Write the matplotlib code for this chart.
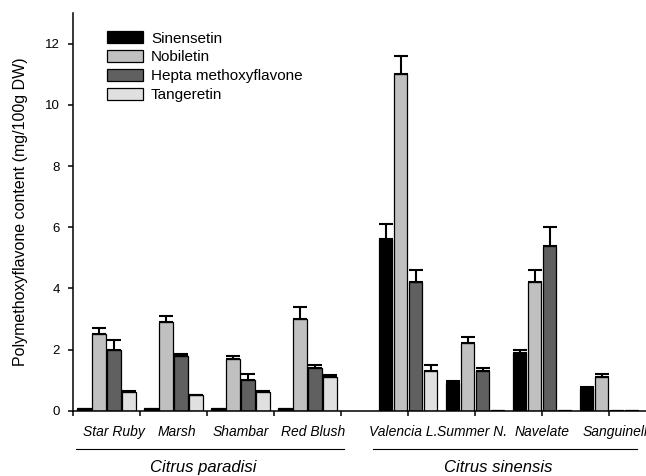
import matplotlib
matplotlib.use("Agg")
import matplotlib.pyplot as plt
import numpy as np

plt.rcParams['font.family'] = ['Liberation Sans', 'DejaVu Sans']

cultivars = ["Star Ruby", "Marsh", "Shambar", "Red Blush",
             "Valencia L.", "Summer N.", "Navelate", "Sanguinelli"]
species = ["Citrus paradisi", "Citrus sinensis"]
compounds = ["Sinensetin", "Nobiletin", "Hepta methoxyflavone", "Tangeretin"]

sinensetin = [0.09, 0.09, 0.09, 0.09, 5.6, 0.9, 1.9, 0.7]
sinensetin_err = [0.0, 0.0, 0.0, 0.0, 0.5, 0.08, 0.1, 0.08]
nobiletin = [2.5, 2.9, 1.7, 3.0, 11.0, 2.2, 4.2, 1.1]
nobiletin_err = [0.2, 0.2, 0.1, 0.4, 0.6, 0.2, 0.4, 0.1]
hepta = [2.0, 1.8, 1.0, 1.4, 4.2, 1.3, 5.4, 0.03]
hepta_err = [0.3, 0.07, 0.2, 0.1, 0.4, 0.1, 0.6, 0.0]
tangeretin = [0.62, 0.5, 0.61, 1.1, 1.3, 0.03, 0.03, 0.03]
tangeretin_err = [0.03, 0.03, 0.03, 0.08, 0.2, 0.0, 0.0, 0.0]

values = [sinensetin, nobiletin, hepta, tangeretin]
errors = [sinensetin_err, nobiletin_err, hepta_err, tangeretin_err]
colors = ["#000000", "#c0c0c0", "#606060", "#e0e0e0"]

# group centres: first species fills the slots between ticks,
# second species is centred on its ticks after a one-slot gap
centers = np.array([0.5, 1.5, 2.5, 3.5, 5.0, 6.0, 7.0, 8.0])
tick_pos = [0, 1, 2, 3, 4, 5, 6, 7, 8]
step = 0.224
width = 0.2
offsets = (np.arange(4) - 1.5) * step

fig = plt.figure(figsize=(6.46, 4.76), dpi=100)
ax = fig.add_axes([0.113, 0.137, 0.887, 0.8355])

for i in range(4):
    ax.bar(centers + offsets[i], values[i], width=width, color=colors[i],
           edgecolor="black", linewidth=0.9, label=compounds[i], zorder=2)
    err = np.array(errors[i])
    mask = err > 0
    ax.errorbar((centers + offsets[i])[mask], np.array(values[i])[mask],
                yerr=[np.zeros(mask.sum()), err[mask]], fmt="none",
                ecolor="black", elinewidth=1.5, capsize=4.7, capthick=1.5,
                zorder=3)

ax.set_xlim(0, 8.55)
ax.set_ylim(0, 13)
ax.set_yticks(range(0, 13, 2))
ax.set_xticks(tick_pos)
ax.set_xticklabels([])
ax.tick_params(axis="x", which="major", length=3.6, width=1.1, direction="out")
ax.tick_params(axis="y", length=3.6, width=1.1, direction="out", pad=6,
               labelsize=9.5)

# cultivar names below each group; the last one runs off the right edge
trans = ax.get_xaxis_transform()
label_x = [0.61, 1.55, 2.5, 3.58, 4.93, 5.96, 7.0, 8.12]
for x, name in zip(label_x, cultivars):
    ax.text(x, -0.053, name, transform=trans, ha="center", va="center",
            style="italic", fontsize=10, clip_on=False)

for s in ["top", "right"]:
    ax.spines[s].set_visible(False)
for s in ["left", "bottom"]:
    ax.spines[s].set_linewidth(1.1)

ax.set_ylabel("Polymethoxyflavone content (mg/100g DW)", fontsize=11.5,
              labelpad=12)

# species brackets under the cultivar labels
for (x0, x1), name in zip([(0.045, 4.04), (4.48, 8.42)], species):
    ax.plot([x0, x1], [-0.096, -0.096], color="black", linewidth=0.8,
            transform=trans, clip_on=False)
    ax.text((x0 + x1) / 2 - 0.1, -0.142, name, transform=trans,
            ha="center", va="center", style="italic", fontsize=12)

ax.legend(loc="upper left", bbox_to_anchor=(0.048, 0.97), frameon=False,
          fontsize=11, handlelength=2.4, handleheight=0.85,
          labelspacing=0.3, handletextpad=0.5, borderaxespad=0)

fig.savefig("out.png", dpi=100)
